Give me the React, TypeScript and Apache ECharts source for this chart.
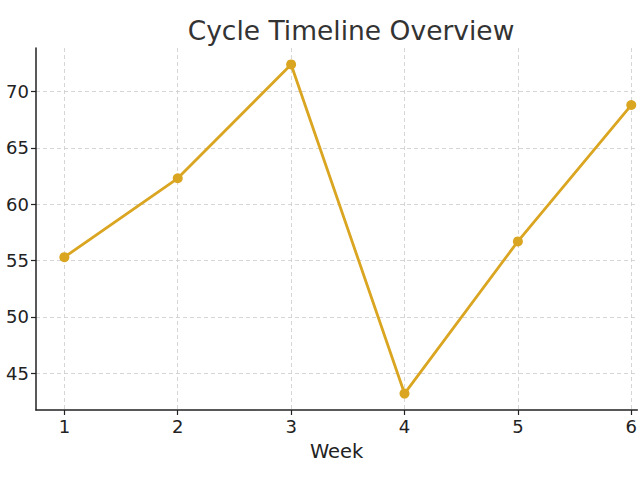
import React, { useEffect, useRef } from "react";
import * as echarts from "echarts";

const weeks = [1, 2, 3, 4, 5, 6];
const values = [55.3, 62.3, 72.4, 43.2, 56.7, 68.8];
const yTicks = [45, 50, 55, 60, 65, 70];
const title = "Cycle Timeline Overview";
const xName = "Week";

export default function App() {
  const ref = useRef<HTMLDivElement>(null);
  useEffect(() => {
    if (!ref.current) return;
    const chart = echarts.init(ref.current, undefined, { renderer: "svg" });
    const dMin = Math.min(...values);
    const dMax = Math.max(...values);
    const pad = (dMax - dMin) * 0.05;
    const font = "DejaVu Sans";
    chart.setOption({
      animation: false,
      backgroundColor: "#ffffff",
      title: {
        text: title,
        left: 346,
        top: 12,
        textAlign: "center",
        textStyle: { fontFamily: font, fontSize: 26.5, fontWeight: "normal", color: "#333333" },
      },
      grid: { left: 36, top: 48, right: 0, bottom: 70, containLabel: false },
      xAxis: {
        type: "value",
        min: 0.75,
        max: 6.053,
        name: xName,
        nameLocation: "middle",
        nameGap: 31,
        nameTextStyle: { fontFamily: font, fontSize: 19.5, color: "#222222" },
        axisLine: { show: true, lineStyle: { color: "#222222", width: 1.5 } },
        axisTick: { show: true, length: 5, customValues: weeks, lineStyle: { color: "#222222", width: 1.2 } },
        axisLabel: { customValues: weeks, margin: 7, fontFamily: font, fontSize: 18, color: "#222222" },
        splitLine: { show: true, lineStyle: { color: "#cccccc", type: [4, 3], width: 0.8 } },
      },
      yAxis: {
        type: "value",
        min: dMin - pad,
        max: dMax + pad,
        axisLine: { show: true, lineStyle: { color: "#222222", width: 1.5 } },
        axisTick: { show: true, length: 5, customValues: yTicks, lineStyle: { color: "#222222", width: 1.2 } },
        axisLabel: { customValues: yTicks, margin: 7, fontFamily: font, fontSize: 18, color: "#222222" },
        splitLine: { show: true, lineStyle: { color: "#cccccc", type: [4, 3], width: 0.8 } },
      },
      series: [
        {
          type: "line",
          data: weeks.map((w, i) => [w, values[i]]),
          lineStyle: { color: "#DAA520", width: 2.8 },
          itemStyle: { color: "#DAA520" },
          symbol: "circle",
          symbolSize: 10,
          clip: false,
        },
      ],
    });
    return () => chart.dispose();
  }, []);
  return <div ref={ref} style={{ position: "absolute", left: 0, top: 0, width: 640, height: 480 }} />;
}
